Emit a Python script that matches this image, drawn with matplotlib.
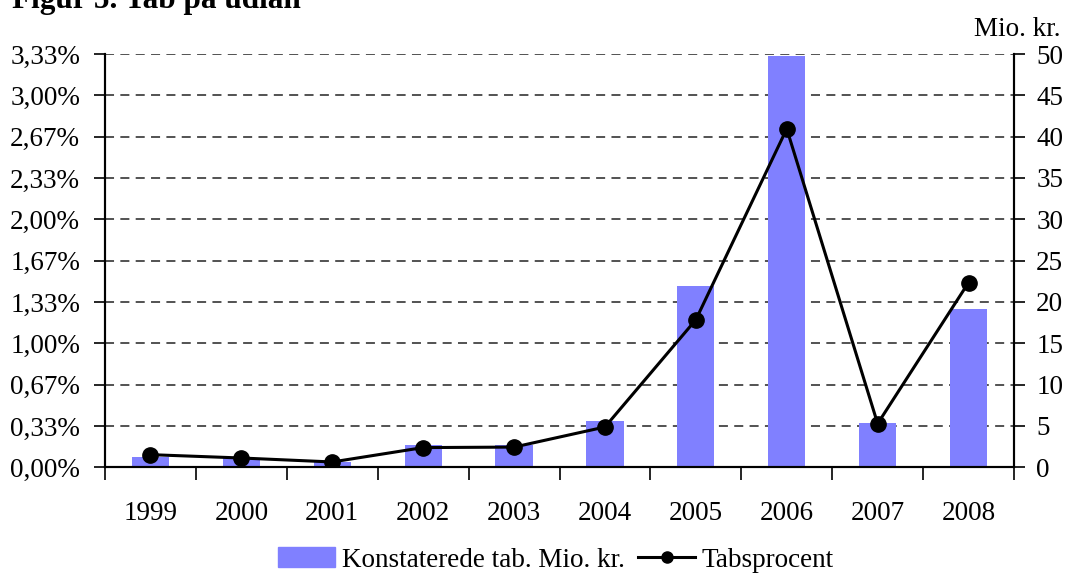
import matplotlib
matplotlib.use("Agg")
import matplotlib.pyplot as plt
from matplotlib.ticker import FixedLocator, FuncFormatter
from matplotlib.lines import Line2D
from matplotlib.patches import Patch

years = ["1999", "2000", "2001", "2002", "2003", "2004", "2005", "2006", "2007", "2008"]
tab_mio = [1.3, 1.1, 0.7, 2.65, 2.65, 5.55, 21.9, 49.7, 5.3, 19.2]
tabsprocent = [0.102, 0.075, 0.043, 0.159, 0.163, 0.325, 1.19, 2.73, 0.352, 1.49]
right_ticks = [0, 5, 10, 15, 20, 25, 30, 35, 40, 45, 50]
left_ticks = [0, 1/3, 2/3, 1.0, 4/3, 5/3, 2.0, 7/3, 8/3, 3.0, 10/3]

plt.rcParams['font.family'] = ['Liberation Serif', 'DejaVu Serif']
FS = 19.5

fig = plt.figure(figsize=(10.65, 5.74), dpi=100)
W, H = 1065, 574
x0, x1, y0, y1 = 105, 1014, 54, 467.3
ax = fig.add_axes([x0 / W, 1 - y1 / H, (x1 - x0) / W, (y1 - y0) / H])

xs = list(range(len(years)))
ax.bar(xs, tab_mio, width=0.41, color='#8080FF', zorder=2)
ax.set_xlim(-0.5, len(years) - 0.5)
ax.set_ylim(0, 50)
ax.set_axisbelow(True)
ax.grid(axis='y', linestyle=(0, (5, 3.5)), color='#444444', linewidth=1.3, zorder=0)

ax.set_xticks(xs)
ax.set_xticklabels(years, fontsize=FS)
ax.tick_params(axis='x', length=0, pad=24)
ax.set_xticks([i - 0.5 for i in range(len(years) + 1)], minor=True)
ax.tick_params(axis='x', which='minor', length=9, width=1.2, direction='out')

ax2 = ax.twinx()
ax2.plot(xs, tabsprocent, color='black', linewidth=2.2, marker='o', markersize=11, zorder=3)
ax2.set_ylim(0, 10/3)

# right axis: Mio. kr. (bars)
ax.yaxis.tick_right()
ax.yaxis.set_label_position('right')
ax.yaxis.set_major_locator(FixedLocator(right_ticks))
ax.tick_params(axis='y', labelsize=FS, direction='out', length=8, width=1.2, pad=8,
               right=True, left=False, labelright=True, labelleft=False)

# left axis: percent (line)
ax2.yaxis.tick_left()
ax2.yaxis.set_major_locator(FixedLocator(left_ticks))
ax2.yaxis.set_major_formatter(FuncFormatter(lambda v, p: f"{v:.2f}%".replace('.', ',')))
ax2.tick_params(axis='y', labelsize=FS, direction='out', length=8, width=1.2, pad=10,
                left=True, right=False, labelleft=True, labelright=False)

for a in (ax, ax2):
    a.spines['top'].set_visible(False)
    for s in ['left', 'right', 'bottom']:
        a.spines[s].set_linewidth(1.5)

fig.text(12 / W, 1 - 8 / H, "Figur 5. Tab på udlån", fontsize=22.5, fontweight='bold', va='baseline', ha='left')
fig.text(1060 / W, 1 - 36 / H, "Mio. kr.", fontsize=FS, va='baseline', ha='right')

handles = [Patch(color='#8080FF'),
           Line2D([], [], color='black', linewidth=2.2, marker='o', markersize=8)]
fig.legend(handles, ["Konstaterede tab. Mio. kr.", "Tabsprocent"], loc='center',
           bbox_to_anchor=(556 / W, 1 - 560 / H), ncol=2, frameon=False, fontsize=FS,
           handlelength=2.1, handletextpad=0.25, columnspacing=0.5, borderpad=0, handleheight=0.75)

fig.savefig("out.png", dpi=100)
